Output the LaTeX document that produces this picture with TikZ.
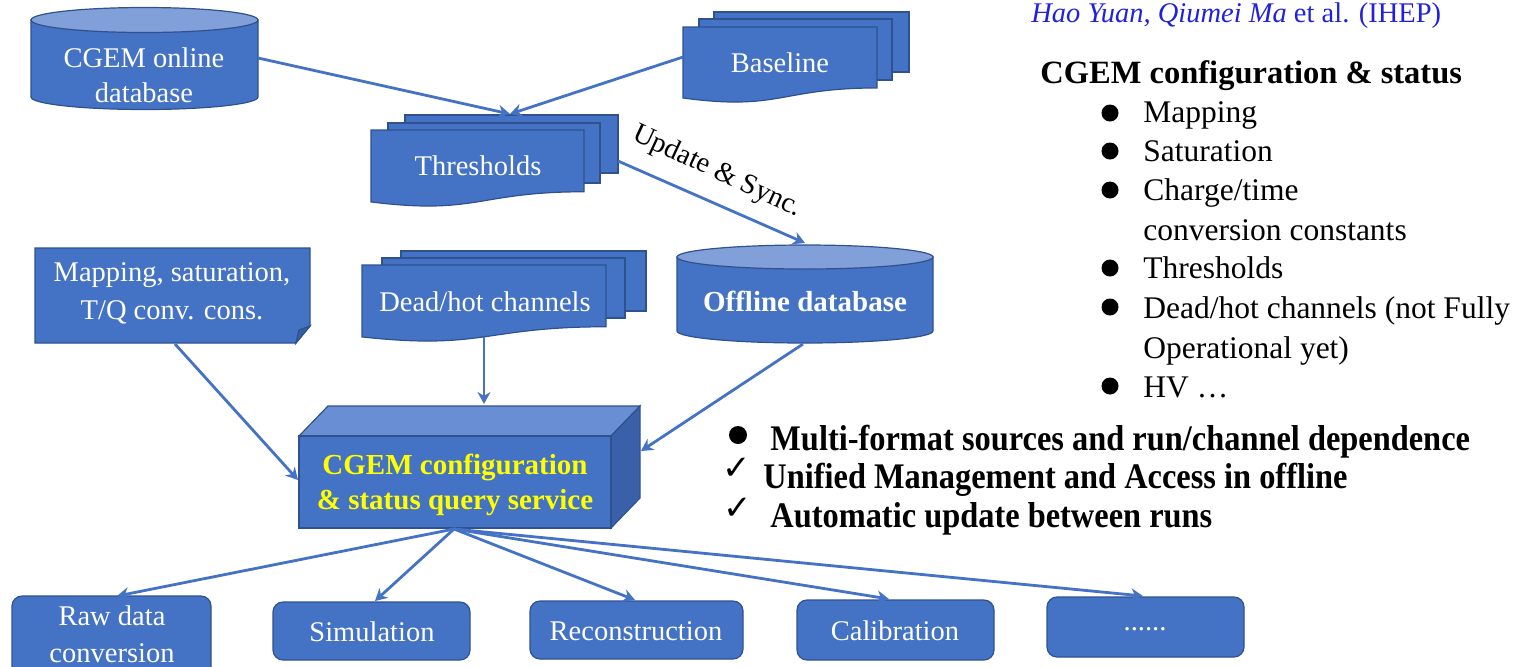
\documentclass[tikz,border=0pt]{standalone}
\usepackage{fontspec}
\setmainfont{Liberation Serif}
\newfontfamily\condbold[FakeStretch=0.9]{Liberation Serif}
\newfontfamily\symfont{DejaVu Sans}
\usetikzlibrary{arrows.meta,calc}

\definecolor{mainblue}{HTML}{4472C4}
\definecolor{edgeblue}{HTML}{2F528F}
\definecolor{toptint}{HTML}{819FD8}
\definecolor{boxtop}{HTML}{6A8ED3}
\definecolor{boxside}{HTML}{3A60AA}
\definecolor{foldblue}{HTML}{365F9F}
\definecolor{authorblue}{HTML}{2121DD}
\definecolor{qyellow}{HTML}{FFFF00}

\tikzset{
  shapefill/.style={fill=mainblue, draw=edgeblue, line width=0.6pt},
  lbl/.style={text=white, font=\fontsize{14.25}{17.5}\selectfont, align=center, inner sep=0pt},
  conn/.style={draw=mainblue, line width=1.4pt, -{Stealth[length=6pt,width=6.5pt]}},
  sidetext/.style={anchor=base west, inner sep=0pt, font=\fontsize{15.75}{19}\selectfont},
  keypoint/.style={anchor=base west, inner sep=0pt, font=\condbold\bfseries\fontsize{18}{21}\selectfont},
  tick/.style={anchor=base, inner sep=0pt, font=\symfont\fontsize{17}{18}\selectfont},
  dot/.style={fill=black, draw=none},
  stepbox/.style={shapefill, rounded corners=5pt},
}

% page of a document stack: left, top, right, height (wavy lower edge)
\newcommand\docpage[4]{%
  \path[shapefill] (#1,#2) -- (#3,#2) -- (#3,{#2+0.802*#4})
    .. controls ({(#1+#3)/2},{#2+0.802*#4}) and ({(#1+#3)/2},{#2+1.107*#4}) .. (#1,{#2+0.934*#4}) -- cycle;}
% plain sheet behind the front page: left, top, right, bottom
\newcommand\backpage[4]{\path[shapefill] (#1,#2) rectangle (#3,#4);}
% database drum: centre x, top-ellipse y, bottom-ellipse y, x radius, y radius
\newcommand\dbdrum[5]{%
  \path[shapefill] ({#1-#4},#2) -- ({#1-#4},#3)
    .. controls ({#1-#4},{#3+0.552*#5}) and ({#1-0.552*#4},{#3+#5}) .. (#1,{#3+#5})
    .. controls ({#1+0.552*#4},{#3+#5}) and ({#1+#4},{#3+0.552*#5}) .. ({#1+#4},#3)
    -- ({#1+#4},#2) -- cycle;
  \path[fill=toptint, draw=edgeblue, line width=0.6pt] (#1,#2) ellipse [x radius=#4, y radius=#5];}

\begin{document}
\begin{tikzpicture}[x=0.5pt, y=-0.5pt]
\useasboundingbox (0,0) rectangle (1519,666);
\begin{scope}
\clip (0,0) rectangle (1519,666);

% ---------- sources ----------
\dbdrum{144.5}{20}{97}{113.5}{12.5}
\node[lbl] (online) at (144,75.5) {CGEM online\\database};

\backpage{714}{12}{909}{72}
\backpage{699}{19}{892}{80}
\docpage{683}{27}{877}{76}
\node[lbl] (base) at (780,63) {Baseline};

\backpage{405}{115}{618}{173}
\backpage{388}{123}{600}{183}
\docpage{371}{130}{584}{77}
\node[lbl] (thr) at (478,166) {Thresholds};

\dbdrum{805}{257}{331}{128}{12}
\node[lbl, font=\bfseries\fontsize{14.5}{17.5}\selectfont] (offline) at (805,301) {Offline database};

\path[shapefill] (35,248) -- (310,248) -- (310,326) -- (296,343) -- (35,343) -- cycle;
\path[fill=foldblue, draw=edgeblue, line width=0.6pt] (310,326) -- (299,330) -- (296,343) -- cycle;
\node[lbl, font=\fontsize{14.25}{19}\selectfont] (map) at (172,293) {Mapping, saturation,\\T/Q conv. cons.};

\backpage{401}{251}{646}{311}
\backpage{382}{258}{625}{318}
\docpage{362}{265}{606}{77}
\node[lbl] (dead) at (485,302) {Dead/hot channels};

% ---------- query service block ----------
\path[fill=boxtop, draw=edgeblue, line width=0.6pt] (299,436) -- (328,406) -- (640,406) -- (611,436) -- cycle;
\path[fill=boxside, draw=edgeblue, line width=0.6pt] (611,436) -- (640,406) -- (640,498) -- (611,528) -- cycle;
\path[shapefill] (299,436) rectangle (611,528);
\node[lbl, text=qyellow, font=\bfseries\fontsize{14.5}{17.5}\selectfont] (svc) at (455,485) {CGEM configuration\\\& status query service};

% ---------- consumers ----------
\path[stepbox] (12,596) rectangle (211,680);
\node[lbl, font=\fontsize{14.25}{18.5}\selectfont] (raw) at (112,634) {Raw data\\conversion};
\path[stepbox] (273,602) rectangle (470,660);
\node[lbl] (sim) at (372,632) {Simulation};
\path[stepbox] (530,601) rectangle (743,659);
\node[lbl] (rec) at (636,631) {Reconstruction};
\path[stepbox] (797,600) rectangle (994,660);
\node[lbl] (cal) at (895,631) {Calibration};
\path[stepbox] (1047,597) rectangle (1244,657);
\node[lbl] (more) at (1145,629) {......};

% ---------- connector ends ----------
\coordinate (online-out) at (258,58);
\coordinate (base-out) at (683,57);
\coordinate (thr-in) at (510,114);
\coordinate (thr-out) at (618,161);
\coordinate (offline-in) at (805,243);
\coordinate (offline-out) at (803,344);
\coordinate (map-out) at (175,344);
\coordinate (dead-out) at (484,337);
\coordinate (svc-left) at (298,480);
\coordinate (svc-top) at (484,404);
\coordinate (svc-right) at (641,451);
\coordinate (svc-out) at (454,529);
\coordinate (raw-in) at (117,596);
\coordinate (sim-in) at (375,601);
\coordinate (rec-in) at (635,600);
\coordinate (cal-in) at (889,599);
\coordinate (more-in) at (1143,596);

\draw[conn] (online-out) -- (thr-in);
\draw[conn] (base-out) -- (thr-in);
\draw[conn] (thr-out) -- (offline-in);
\draw[conn] (map-out) -- (svc-left);
\draw[conn] (dead-out) -- (svc-top);
\draw[conn] (offline-out) -- (svc-right);
\draw[conn] (svc-out) -- (raw-in);
\draw[conn] (svc-out) -- (sim-in);
\draw[conn] (svc-out) -- (rec-in);
\draw[conn] (svc-out) -- (cal-in);
\draw[conn] (svc-out) -- (more-in);

\node[rotate=-25, inner sep=0pt, font=\fontsize{14.25}{16}\selectfont] (sync) at (717,172) {Update \& Sync.};
\end{scope}

% ---------- notes on the right ----------
\node[anchor=base west, inner sep=0pt, text=authorblue, font=\fontsize{14.25}{17}\selectfont] (auth) at (1031,22)
  {\itshape Hao Yuan, Qiumei Ma\/\upshape{} et al. (IHEP)};
\node[anchor=base west, inner sep=0pt, font=\bfseries\fontsize{16.25}{19}\selectfont] (head) at (1040,83)
  {CGEM configuration \& status};
\node[sidetext] (it1) at (1143,122) {Mapping};
\node[sidetext] (it2) at (1143,161) {Saturation};
\node[sidetext] (it3) at (1143,200) {Charge/time};
\node[sidetext] (it3b) at (1143,240) {conversion constants};
\node[sidetext] (it4) at (1143,278) {Thresholds};
\node[sidetext] (it5) at (1143,318) {Dead/hot channels (not Fully};
\node[sidetext] (it5b) at (1143,358) {Operational yet)};
\node[sidetext] (it6) at (1143,397) {HV \dots};
\foreach \y in {113,151,190,268,307,386}
  \fill[dot] (1110,\y) circle [radius=8.5];

\fill[dot] (738,435) circle [radius=9];
\node[keypoint] (kp1) at (770,450) {Multi-format sources and run/channel dependence};
\node[tick] (ck1) at (737,479) {\symbol{"2713}};
\node[keypoint] (kp2) at (763,488) {Unified Management and Access in offline};
\node[tick] (ck2) at (738,519) {\symbol{"2713}};
\node[keypoint] (kp3) at (770,527) {Automatic update between runs};
\end{tikzpicture}
\end{document}
